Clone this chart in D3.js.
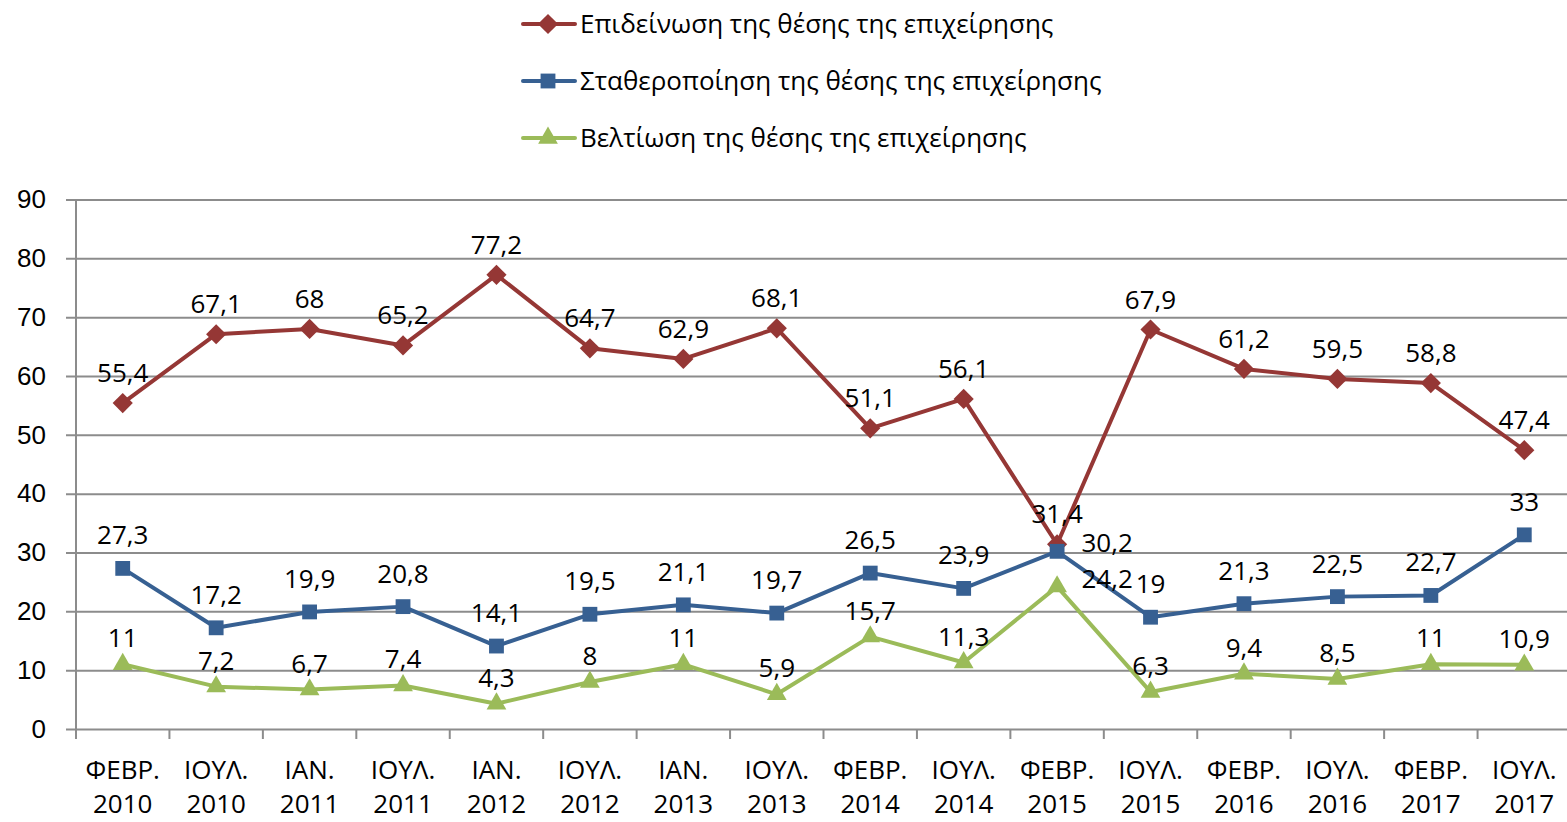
<!DOCTYPE html>
<html>
<head>
<meta charset="utf-8">
<script src="https://cdn.jsdelivr.net/npm/d3@7"></script>
<style>
  body { margin: 0; background: #fff; }
  svg { display: block; font-family: "Open Sans", "DejaVu Sans", sans-serif; }
</style>
</head>
<body>
<div id="chart"></div>
<script>
const months = ["ΦΕΒΡ.", "ΙΟΥΛ.", "ΙΑΝ.", "ΙΟΥΛ.", "ΙΑΝ.", "ΙΟΥΛ.", "ΙΑΝ.", "ΙΟΥΛ.",
  "ΦΕΒΡ.", "ΙΟΥΛ.", "ΦΕΒΡ.", "ΙΟΥΛ.", "ΦΕΒΡ.", "ΙΟΥΛ.", "ΦΕΒΡ.", "ΙΟΥΛ."];
const years = ["2010", "2010", "2011", "2011", "2012", "2012", "2013", "2013",
  "2014", "2014", "2015", "2015", "2016", "2016", "2017", "2017"];
const categories = months.map((m, i) => m + " " + years[i]);

const worsening = [55.4, 67.1, 68, 65.2, 77.2, 64.7, 62.9, 68.1, 51.1, 56.1, 31.4, 67.9, 61.2, 59.5, 58.8, 47.4];
const stable = [27.3, 17.2, 19.9, 20.8, 14.1, 19.5, 21.1, 19.7, 26.5, 23.9, 30.2, 19, 21.3, 22.5, 22.7, 33];
const improving = [11, 7.2, 6.7, 7.4, 4.3, 8, 11, 5.9, 15.7, 11.3, 24.2, 6.3, 9.4, 8.5, 11, 10.9];

const seriesNames = [
  "Επιδείνωση της θέσης της επιχείρησης",
  "Σταθεροποίηση της θέσης της επιχείρησης",
  "Βελτίωση της θέσης της επιχείρησης"
];
const yTicks = [0, 10, 20, 30, 40, 50, 60, 70, 80, 90];

const width = 1567, height = 822;
const plotLeft = 76, plotRight = 1571, plotTop = 199.5, plotBottom = 729;
const fontSize = "26px";

const series = [
  { name: seriesNames[0], values: worsening, color: "#953735", symbol: d3.symbolDiamond2, size: 260, labelDy: -30 },
  { name: seriesNames[1], values: stable, color: "#376092", symbol: d3.symbolSquare2, size: 280, labelDy: -33 },
  { name: seriesNames[2], values: improving, color: "#9BBB59", symbol: d3.symbolTriangle2, size: 280, labelDy: -26 }
];

const svg = d3.select("#chart").append("svg")
  .attr("width", width)
  .attr("height", height);

const x = d3.scaleBand().domain(categories).range([plotLeft, plotRight]);
const y = d3.scaleLinear().domain([0, 90]).range([plotBottom, plotTop]);
const cx = c => x(c) + x.bandwidth() / 2;

// Gridlines + y axis labels
const yAxis = svg.append("g")
  .attr("transform", `translate(${plotLeft},0)`)
  .call(d3.axisLeft(y).tickValues(yTicks).tickSizeInner(-(width - plotLeft)).tickSizeOuter(0).tickPadding(30));
yAxis.select(".domain").remove();
yAxis.selectAll(".tick line")
  .attr("x1", -10)
  .attr("stroke", "#8c8c8c")
  .attr("stroke-width", 2);
yAxis.selectAll(".tick text")
  .attr("font-size", fontSize)
  .attr("fill", "#000");

// vertical axis line
svg.append("line")
  .attr("x1", plotLeft).attr("x2", plotLeft)
  .attr("y1", y(90)).attr("y2", y(0) + 10)
  .attr("stroke", "#8c8c8c")
  .attr("stroke-width", 2);

// category boundary ticks
svg.selectAll(".xtick")
  .data(categories.slice(1))
  .enter()
  .append("line")
  .attr("x1", d => x(d)).attr("x2", d => x(d))
  .attr("y1", y(0)).attr("y2", y(0) + 10)
  .attr("stroke", "#8c8c8c")
  .attr("stroke-width", 2);

// x labels (two lines)
const xLabels = svg.selectAll(".xlabel")
  .data(categories)
  .enter()
  .append("text")
  .attr("x", d => cx(d))
  .attr("text-anchor", "middle")
  .attr("font-size", fontSize)
  .attr("fill", "#000");
xLabels.append("tspan").attr("x", d => cx(d)).attr("y", 779).text((d, i) => months[i]);
xLabels.append("tspan").attr("x", d => cx(d)).attr("y", 813).text((d, i) => years[i]);

const line = d3.line()
  .x((d, i) => cx(categories[i]))
  .y(d => y(d));

series.forEach(s => {
  const g = svg.append("g");
  g.append("path")
    .datum(s.values)
    .attr("d", line)
    .attr("fill", "none")
    .attr("stroke", s.color)
    .attr("stroke-width", 4)
    .attr("stroke-linejoin", "round");

  g.selectAll(".marker")
    .data(s.values)
    .enter()
    .append("path")
    .attr("transform", (d, i) => `translate(${cx(categories[i])},${y(d)})`)
    .attr("d", d3.symbol().type(s.symbol).size(s.size))
    .attr("fill", s.color);

  // FEBR. 2015 labels of the lower two series sit to the right of the point
  const aside = i => i === 10 && s.values !== worsening;
  g.selectAll(".label")
    .data(s.values)
    .enter()
    .append("text")
    .attr("x", (d, i) => cx(categories[i]) + (aside(i) ? 50 : 0))
    .attr("y", (d, i) => y(d) + (aside(i) ? -8 : s.labelDy) + 9)
    .attr("text-anchor", "middle")
    .attr("font-size", fontSize)
    .attr("fill", "#000")
    .text(d => String(d).replace(".", ","));
});

// Legend
const legend = svg.append("g");
series.forEach((s, i) => {
  const ly = 24 + i * 57;
  legend.append("line")
    .attr("x1", 523).attr("x2", 575)
    .attr("y1", ly).attr("y2", ly)
    .attr("stroke", s.color)
    .attr("stroke-width", 4)
    .attr("stroke-linecap", "round");
  legend.append("path")
    .attr("transform", `translate(548,${ly})`)
    .attr("d", d3.symbol().type(s.symbol).size(s.size))
    .attr("fill", s.color);
  legend.append("text")
    .attr("x", 580)
    .attr("y", ly + 9)
    .attr("font-size", fontSize)
    .attr("fill", "#000")
    .text(s.name);
});
</script>
</body>
</html>
